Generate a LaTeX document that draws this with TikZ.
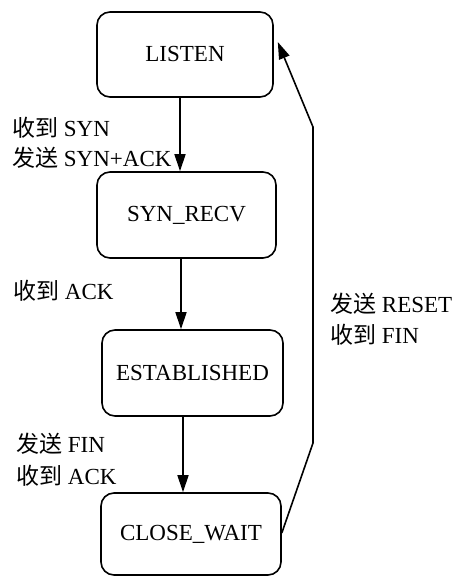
\documentclass[tikz,border=0pt]{standalone}
\usepackage{fontspec}
\setmainfont{Liberation Serif}
\newfontfamily\cjk{Noto Sans CJK SC}
\usetikzlibrary{arrows.meta}
\begin{document}
\begin{tikzpicture}[x=1pt,y=1pt,
  state/.style={draw, line width=1.6pt, rounded corners=13pt, inner sep=0pt,
    font=\fontsize{23}{28}\selectfont},
  lbl/.style={anchor=base west, inner sep=0pt, font=\fontsize{23}{28}\selectfont},
  arr/.style={line width=1.6pt, -{Triangle[length=17pt,width=11pt]}}]
\useasboundingbox (0,0) rectangle (457,576);

% states
\node[state, minimum width=176pt, minimum height=85pt] (listen) at (185,521.5) {LISTEN};
\node[state, minimum width=179pt, minimum height=86pt] (synrecv) at (186.5,361) {SYN\_RECV};
\node[state, minimum width=181pt, minimum height=86pt] (estab) at (192.5,203) {ESTABLISHED};
\node[state, minimum width=180pt, minimum height=82pt] (closewait) at (191,42) {CLOSE\_WAIT};

% forward transitions
\draw[arr] ([xshift=-5pt]listen.south) -- ([xshift=-6.5pt]synrecv.north);
\draw[arr] ([xshift=-5.5pt]synrecv.south) -- ([xshift=-11.5pt]estab.north);
\draw[arr] ([xshift=-9.5pt]estab.south) -- ([xshift=-8pt]closewait.north);

% return to LISTEN
\coordinate (b1) at (313,133);
\coordinate (b2) at (313,449);
\draw[arr] ([yshift=1pt]closewait.east) -- (b1) -- (b2) -- ([xshift=4pt,yshift=12.5pt]listen.east);

% transition labels
\node[lbl] (l1) at (12,439) {{\cjk 收到} SYN};
\node[lbl] (l2) at (12,409) {{\cjk 发送} SYN+ACK};
\node[lbl] (l3) at (13,276) {{\cjk 收到} ACK};
\node[lbl] (l4) at (330,263) {{\cjk 发送} RESET};
\node[lbl] (l5) at (330,232) {{\cjk 收到} FIN};
\node[lbl] (l6) at (16,123) {{\cjk 发送} FIN};
\node[lbl] (l7) at (16,91) {{\cjk 收到} ACK};
\end{tikzpicture}
\end{document}
